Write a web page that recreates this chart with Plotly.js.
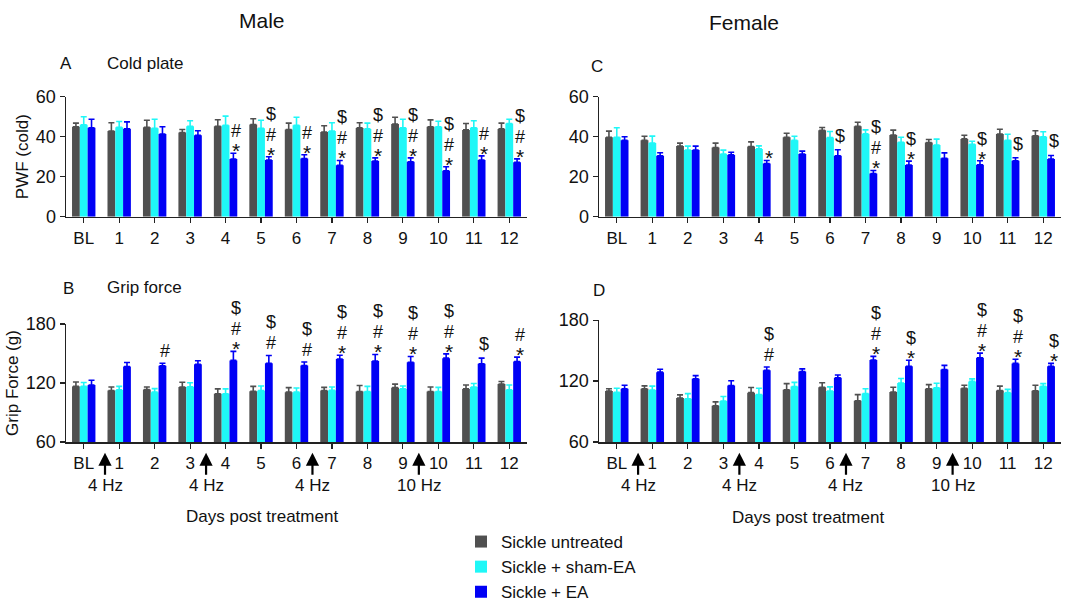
<!DOCTYPE html>
<html>
<head>
<meta charset="utf-8">
<script src="https://cdn.plot.ly/plotly-3.0.1.min.js"></script>
<style>html,body{margin:0;padding:0;background:#fff;}#chart{width:1072px;height:610px;}</style>
</head>
<body>
<div id="chart"></div>
<script>
// ---- categories ----
const days = ['BL','1','2','3','4','5','6','7','8','9','10','11','12'];
const seriesNames = ['Sickle untreated', 'Sickle + sham-EA', 'Sickle + EA'];

// ---- Male cold plate (PWF) ----
const maleColdUntreated    = [45, 42.8, 44.7, 42.1, 45.2, 46.1, 43.6, 42.3, 44.4, 46.3, 45, 43.4, 43.9];
const maleColdUntreatedErr = [1.8, 4.2, 3.5, 1.5, 3.3, 2.9, 3.2, 3.2, 2.6, 3.4, 3.4, 3.2, 2.9];
const maleColdSham         = [46, 44.7, 44.2, 45.2, 45.7, 44.2, 45.7, 42.8, 43.9, 44.5, 45, 44.5, 46.6];
const maleColdShamErr      = [4, 2.9, 4.5, 2.8, 4.6, 4, 4, 4.2, 2.9, 4.2, 2.7, 3.5, 2.1];
const maleColdEA           = [44.5, 44, 41.3, 40.7, 28.8, 28.3, 29.1, 25.7, 27.8, 27.5, 23, 28.3, 27.2];
const maleColdEAErr        = [4.2, 3.4, 3.7, 2.3, 2.9, 1.7, 1.9, 2.4, 1.6, 1.9, 2, 2.1, 1.7];
const maleColdSig          = ['', '', '', '', '#*', '$#*', '#*', '$#*', '$#*', '$#*', '$#*', '#*', '$#*'];

// ---- Female cold plate (PWF) ----
const femaleColdUntreated    = [39.7, 38.2, 35.3, 34.6, 35.1, 39.7, 43.2, 45.2, 40.8, 37.1, 38.9, 41.3, 40.5];
const femaleColdUntreatedErr = [3.1, 2, 1.5, 2.2, 2.3, 2, 1.4, 2, 2.5, 1.5, 1.8, 2.4, 2.5];
const femaleColdSham         = [39.7, 36.8, 33.3, 31.3, 33.9, 38.2, 39.6, 41.4, 37.2, 35.8, 36.2, 38.2, 40];
const femaleColdShamErr      = [4.8, 3.5, 2, 2, 1.5, 2, 3, 2, 2.5, 3, 1.5, 3, 2.5];
const femaleColdEA           = [38.2, 30.5, 33.3, 30.9, 26.6, 31.3, 30.5, 21.6, 25.8, 29.2, 26, 28, 28.8];
const femaleColdEAErr        = [1.8, 1.5, 2, 1.3, 1.5, 1.5, 3, 1.5, 2, 2.7, 2, 1.5, 1.8];
const femaleColdSig          = ['', '', '', '', '*', '', '$', '$#*', '$*', '', '$*', '$', '$'];

// ---- Male grip force (g) ----
const maleGripUntreated    = [116.6, 112.3, 113.3, 116, 109, 111.7, 110.7, 112.3, 111.3, 115.3, 111.3, 114, 118.9];
const maleGripUntreatedErr = [4.4, 3.7, 2.7, 4.8, 5, 4.9, 4.6, 3.3, 6.2, 3.6, 4.7, 4, 2.6];
const maleGripSham         = [116.6, 113, 110.7, 116.2, 109, 112.3, 110.7, 112.6, 111.3, 114, 111.3, 116, 113];
const maleGripShamErr      = [3.9, 3.6, 3.6, 4, 5, 4.6, 4.3, 3.3, 5.3, 3, 4.3, 3.5, 5];
const maleGripEA           = [117.9, 136.8, 137.5, 139.1, 143, 140.1, 137.8, 144.4, 142.4, 141.1, 145.3, 139.5, 141.8];
const maleGripEAErr        = [4.9, 4, 2.6, 3.6, 9.2, 7.9, 3.6, 3.9, 6.6, 5.9, 4.3, 5.8, 4.5];
const maleGripSig          = ['', '', '#', '', '$#*', '$#', '$#', '$#*', '$#*', '$#*', '$#*', '$', '#*'];

// ---- Female grip force (g) ----
const femaleGripUntreated    = [110.2, 112.4, 103.3, 95.7, 108.6, 111.5, 114, 100.7, 109.3, 112.4, 113, 110.8, 110.5];
const femaleGripUntreatedErr = [2.2, 2.9, 3.1, 3.8, 5.1, 6, 4.4, 6, 4.7, 4.1, 2.9, 4.2, 5.4];
const femaleGripSham         = [109, 111.2, 102.6, 100.4, 106.7, 114.6, 110.2, 107.7, 118.1, 113.4, 119.7, 108.6, 114.9];
const femaleGripShamErr      = [4, 3.8, 5.1, 4.4, 6.3, 4.1, 4.1, 4.7, 4.4, 4.4, 2.5, 3.2, 2.6];
const femaleGripEA           = [112.4, 128.8, 122.2, 115.6, 130.7, 129.5, 123.2, 140.8, 134.5, 131.4, 143, 137.4, 134.5];
const femaleGripEAErr        = [3.5, 2.9, 3.2, 4.7, 3.2, 2.5, 2.8, 3.5, 6, 4.1, 4.5, 4.1, 2.9];
const femaleGripSig          = ['', '', '', '', '$#', '', '', '$#*', '$*', '', '$#*', '$#*', '$*'];

// ---- stimulation markers (position between day ticks) ----
const stimPositions = [0.6, 3.45, 6.45, 9.45];
const stimLabels    = ['4 Hz', '4 Hz', '4 Hz', '10 Hz'];

// ---- styling ----
const colors = ['#505050', '#1ff7f7', '#0000f5'];
const FONT = 'Liberation Sans, Arial, sans-serif';
const BARGAP = 0.34;
const W = 1072, H = 610;
const px = v => v / W;
const py = v => 1 - v / H;
const xIdx = days.map((d, i) => i);

function barTrace(name, vals, errs, color, xa, ya, showLegend) {
  return {
    type: 'bar', name: name, x: xIdx, y: vals, xaxis: xa, yaxis: ya,
    marker: {color: color, line: {width: 0}},
    error_y: {type: 'data', symmetric: false, array: errs, arrayminus: errs.map(() => 0),
              color: color, thickness: 1.6, width: 3},
    showlegend: showLegend, legendgroup: name, hoverinfo: 'y'
  };
}

const panels = [
  {xa: 'x',  ya: 'y',  u: maleColdUntreated, ue: maleColdUntreatedErr, s: maleColdSham, se: maleColdShamErr, e: maleColdEA, ee: maleColdEAErr, sig: maleColdSig, leg: true},
  {xa: 'x2', ya: 'y2', u: maleGripUntreated, ue: maleGripUntreatedErr, s: maleGripSham, se: maleGripShamErr, e: maleGripEA, ee: maleGripEAErr, sig: maleGripSig, leg: false},
  {xa: 'x3', ya: 'y3', u: femaleColdUntreated, ue: femaleColdUntreatedErr, s: femaleColdSham, se: femaleColdShamErr, e: femaleColdEA, ee: femaleColdEAErr, sig: femaleColdSig, leg: false},
  {xa: 'x4', ya: 'y4', u: femaleGripUntreated, ue: femaleGripUntreatedErr, s: femaleGripSham, se: femaleGripShamErr, e: femaleGripEA, ee: femaleGripEAErr, sig: femaleGripSig, leg: false}
];

const data = [];
const annotations = [];
const barW = (1 - BARGAP) / 3;
// symbol font sizes inside the stacked label (line spacing follows base size 16)
const symSize = {'*': 21, '#': 18, '$': 18};
// vertical nudge depending on the lowest symbol of the stack
const bottomShift = {'*': -11, '#': 0, '$': 2};

panels.forEach(p => {
  data.push(barTrace(seriesNames[0], p.u, p.ue, colors[0], p.xa, p.ya, p.leg));
  data.push(barTrace(seriesNames[1], p.s, p.se, colors[1], p.xa, p.ya, p.leg));
  data.push(barTrace(seriesNames[2], p.e, p.ee, colors[2], p.xa, p.ya, p.leg));
  p.sig.forEach((sg, i) => {
    if (!sg) return;
    const syms = sg.split('');
    const txt = syms.map(s => '<span style="font-size:' + symSize[s] + 'px">' + s + '</span>').join('<br>');
    annotations.push({
      x: i + barW + 0.07, y: p.e[i] + p.ee[i], xref: p.xa, yref: p.ya,
      text: txt, showarrow: false, align: 'center',
      xanchor: 'center', yanchor: 'bottom', yshift: bottomShift[syms[syms.length - 1]],
      font: {family: FONT, size: 16, color: '#111'}
    });
  });
});

// stimulation arrows under grip panels
['x2', 'x4'].forEach(xa => {
  stimPositions.forEach((pos, i) => {
    annotations.push({
      x: pos, xref: xa, y: py(468), yref: 'paper',
      ax: 0, ay: 33, text: stimLabels[i], showarrow: true,
      arrowhead: 2, arrowsize: 1.2, arrowwidth: 2.2, arrowcolor: '#000',
      font: {family: FONT, size: 17, color: '#111'}
    });
  });
});

function textAnn(t, x, y, size, anchor) {
  return {text: t, x: px(x), y: py(y), xref: 'paper', yref: 'paper', showarrow: false,
          xanchor: anchor || 'center', yanchor: 'middle', font: {family: FONT, size: size, color: '#111'}};
}
annotations.push(textAnn('Male', 262, 21, 21));
annotations.push(textAnn('Female', 744, 23, 21));
annotations.push(textAnn('A', 66, 66, 17));
annotations.push(textAnn('Cold plate', 105, 66, 17, 'left'));
annotations.push(textAnn('C', 597, 69, 17));
annotations.push(textAnn('B', 68, 298, 17));
annotations.push(textAnn('Grip force', 105, 297, 17, 'left'));
annotations.push(textAnn('D', 599, 300, 17));
annotations.push(textAnn('Days post treatment', 262, 534, 17));
annotations.push(textAnn('Days post treatment', 808, 535, 17));

function xAxis(domain, anchor) {
  return {domain: domain, anchor: anchor, range: [-0.5, 12.5], tickmode: 'array', tickvals: xIdx, ticktext: days,
          showline: true, linecolor: '#222', linewidth: 1.5, ticks: 'outside', ticklen: 5, tickcolor: '#222',
          tickwidth: 1.2, showgrid: false, zeroline: false, fixedrange: true,
          tickfont: {family: FONT, size: 17, color: '#111'}};
}
function yAxis(domain, anchor, range, dtick, title) {
  return {domain: domain, anchor: anchor, range: range, dtick: dtick, tick0: range[0],
          showline: true, linecolor: '#222', linewidth: 1.5, ticks: 'outside', ticklen: 5, tickcolor: '#222',
          tickwidth: 1.2, showgrid: false, zeroline: false, fixedrange: true,
          tickfont: {family: FONT, size: 18, color: '#111'},
          title: title ? {text: title, font: {family: FONT, size: 17, color: '#111'}, standoff: 3} : undefined};
}

const layout = {
  width: W, height: H, margin: {l: 0, r: 0, t: 0, b: 0},
  paper_bgcolor: '#fff', plot_bgcolor: '#fff',
  barmode: 'group', bargap: BARGAP, bargroupgap: 0,
  font: {family: FONT, color: '#111'},
  xaxis:  xAxis([px(66), px(527)], 'y'),
  yaxis:  yAxis([py(224), py(100)], 'x', [0, 60], 20, 'PWF (cold)'),
  xaxis2: xAxis([px(66), px(527)], 'y2'),
  yaxis2: yAxis([py(457), py(335)], 'x2', [60, 180], 60, 'Grip Force (g)'),
  xaxis3: xAxis([px(599), px(1061)], 'y3'),
  yaxis3: yAxis([py(224), py(100)], 'x3', [0, 60], 20, null),
  xaxis4: xAxis([px(599), px(1061)], 'y4'),
  yaxis4: yAxis([py(457), py(331)], 'x4', [60, 180], 60, null),
  showlegend: true,
  legend: {x: px(461), y: py(542), xanchor: 'left', yanchor: 'top', bgcolor: 'rgba(0,0,0,0)',
           font: {family: FONT, size: 17, color: '#111'}, traceorder: 'normal', tracegroupgap: 0},
  annotations: annotations
};

Plotly.newPlot('chart', data, layout, {displayModeBar: false, staticPlot: true});
</script>
</body>
</html>
